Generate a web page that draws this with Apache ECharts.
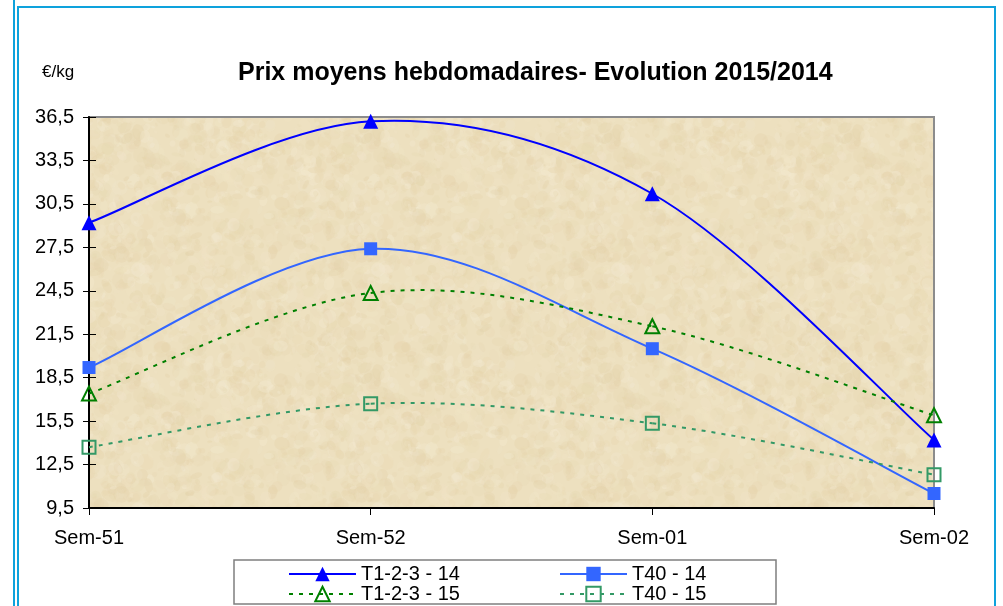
<!DOCTYPE html>
<html>
<head>
<meta charset="utf-8">
<script src="https://cdn.jsdelivr.net/npm/echarts@6/dist/echarts.min.js"></script>
<style>html,body{margin:0;padding:0;background:#fff}#c{width:1003px;height:606px}</style>
</head>
<body>
<div id="c"></div>
<script>
var categories = ['Sem-51', 'Sem-52', 'Sem-01', 'Sem-02'];
var t123_14 = [29.2, 36.2, 31.2, 14.2];
var t40_14 = [19.2, 27.4, 20.5, 10.5];
var t123_15 = [17.4, 24.35, 22.05, 15.9];
var t40_15 = [13.7, 16.7, 15.35, 11.8];
var yTicks = { min: 9.5, max: 36.5, interval: 3 };

// decorative sand texture (deterministic)
function makeTexture() {
  var cv = document.createElement('canvas');
  cv.width = 240; cv.height = 240;
  var g = cv.getContext('2d');
  g.fillStyle = '#ede0bf';
  g.fillRect(0, 0, 240, 240);
  var cols = ['#f4ebd4', '#e3d1a8', '#e9d9b3', '#f1e5c8', '#e6d4ab'];
  function h(n) { var s = Math.sin(n * 12.9898) * 43758.5453; return s - Math.floor(s); }
  for (var i = 0; i < 1200; i++) {
    var x = h(i + 1) * 240, y = h(i + 1000) * 240;
    var r = 1.5 + h(i + 2000) * 7;
    g.globalAlpha = 0.15 + h(i + 3000) * 0.2;
    g.fillStyle = cols[Math.floor(h(i + 4000) * cols.length)];
    for (var dx = -240; dx <= 240; dx += 240) for (var dy = -240; dy <= 240; dy += 240) {
      g.beginPath();
      g.ellipse(x + dx, y + dy, r, r * (0.4 + h(i + 5000) * 0.6), h(i + 6000) * 3.14, 0, Math.PI * 2);
      g.fill();
    }
  }
  g.globalAlpha = 1;
  return cv;
}

var chart = echarts.init(document.getElementById('c'), null, { renderer: 'canvas' });
var font = 'Liberation Sans, Arial, sans-serif';
var blueFrame = '#0ea2dc';

// smooth curve (Catmull-Rom style, like spreadsheet smoothing) drawn through the axes
function curveSeries(id, data, color, dash) {
  return {
    id: id, type: 'custom', silent: true, z: 2,
    data: data.map(function (v, i) { return [i, v]; }),
    renderItem: function (params, api) {
      var i = params.dataIndex;
      if (i >= data.length - 1) return null;
      function P(k) { k = Math.max(0, Math.min(data.length - 1, k)); return api.coord([k, data[k]]); }
      var p0 = P(i - 1), p1 = P(i), p2 = P(i + 1), p3 = P(i + 2);
      return {
        type: 'bezierCurve',
        shape: {
          x1: p1[0], y1: p1[1], x2: p2[0], y2: p2[1],
          cpx1: p1[0] + (p2[0] - p0[0]) / 6, cpy1: p1[1] + (p2[1] - p0[1]) / 6,
          cpx2: p2[0] - (p3[0] - p1[0]) / 6, cpy2: p2[1] - (p3[1] - p1[1]) / 6
        },
        style: { stroke: color, lineWidth: 2, fill: null, lineDash: dash ? [4, 6] : null }
      };
    }
  };
}

function markSeries(name, data, color, symbol, size, dashed, filled) {
  return {
    name: name, type: 'line', data: data, z: 3,
    symbol: symbol, symbolSize: size, showSymbol: true,
    lineStyle: { color: color, width: 2, type: dashed ? [4, 6] : 'solid', opacity: 0 },
    itemStyle: filled ? { color: color } : { color: 'rgba(0,0,0,0)', borderColor: color, borderWidth: 2 },
    emphasis: { disabled: true }
  };
}

function legendItem(name, color, dashed) {
  return { name: name, lineStyle: { color: color, width: 2, type: dashed ? [4, 6] : 'solid', opacity: 1 } };
}

var legendText = { fontSize: 20, color: '#000', lineHeight: 18, fontFamily: font };

chart.setOption({
  animation: false,
  backgroundColor: '#ffffff',
  textStyle: { fontFamily: font },
  title: {
    text: 'Prix moyens hebdomadaires- Evolution 2015/2014',
    left: 233, top: 56,
    textStyle: { fontSize: 25, fontWeight: 'bold', color: '#000', fontFamily: font }
  },
  grid: {
    left: 89, right: 69, top: 117, bottom: 98,
    show: true,
    backgroundColor: { image: makeTexture(), repeat: 'repeat' },
    borderColor: '#8c8c8c', borderWidth: 2
  },
  xAxis: {
    type: 'category', data: categories, boundaryGap: false,
    axisLine: { lineStyle: { color: '#000', width: 2 } },
    axisTick: { show: true, length: 7, lineStyle: { color: '#000', width: 1 } },
    axisLabel: { color: '#000', fontSize: 20, margin: 20, fontFamily: font },
    splitLine: { show: false }
  },
  yAxis: [{
    type: 'value', min: yTicks.min, max: yTicks.max, interval: yTicks.interval,
    axisLine: { show: true, lineStyle: { color: '#000', width: 2 } },
    axisTick: { show: true, length: 6, lineStyle: { color: '#000', width: 1 } },
    axisLabel: { color: '#000', fontSize: 20, margin: 15, fontFamily: font,
      formatter: function (v) { return v.toFixed(1).replace('.', ','); } },
    splitLine: { show: false }
  }, {
    type: 'value', min: yTicks.min, max: yTicks.max, interval: yTicks.interval, position: 'left',
    axisLine: { show: false },
    axisTick: { show: true, inside: true, length: 7, lineStyle: { color: '#000', width: 1 } },
    axisLabel: { show: false }, splitLine: { show: false }
  }],
  legend: [{
    data: [legendItem('T1-2-3 - 14', '#0000ff', false), legendItem('T1-2-3 - 15', '#008000', true)],
    orient: 'vertical', left: 283, top: 559, height: 80, itemWidth: 67, itemHeight: 18, itemGap: 0,
    textStyle: legendText, selectedMode: false
  }, {
    data: [legendItem('T40 - 14', '#3366ff', false), legendItem('T40 - 15', '#339966', true)],
    orient: 'vertical', left: 554, top: 559, height: 80, itemWidth: 67, itemHeight: 18, itemGap: 0,
    textStyle: legendText, selectedMode: false
  }],
  series: [
    curveSeries('c1', t123_14, '#0000ff', false),
    curveSeries('c2', t40_14, '#3366ff', false),
    curveSeries('c3', t123_15, '#008000', true),
    curveSeries('c4', t40_15, '#339966', true),
    markSeries('T1-2-3 - 14', t123_14, '#0000ff', 'triangle', 15, false, true),
    markSeries('T40 - 14', t40_14, '#3366ff', 'rect', 13, false, true),
    markSeries('T1-2-3 - 15', t123_15, '#008000', 'triangle', 14, true, false),
    markSeries('T40 - 15', t40_15, '#339966', 'rect', 13, true, false)
  ],
  graphic: [
    { type: 'line', shape: { x1: 14, y1: 0, x2: 14, y2: 606 }, style: { stroke: blueFrame, lineWidth: 2 } },
    { type: 'line', shape: { x1: 18, y1: 7, x2: 18, y2: 606 }, style: { stroke: blueFrame, lineWidth: 2 } },
    { type: 'line', shape: { x1: 17, y1: 7, x2: 996, y2: 7 }, style: { stroke: blueFrame, lineWidth: 2 } },
    { type: 'line', shape: { x1: 995, y1: 6, x2: 995, y2: 606 }, style: { stroke: blueFrame, lineWidth: 2 } },
    { type: 'rect', shape: { x: 234, y: 560, width: 542, height: 44 }, style: { fill: 'none', stroke: '#7f7f7f', lineWidth: 1.5 }, z: 0 },
    { type: 'text', left: 42, top: 64, style: { text: '€/kg', fontSize: 17, fill: '#000', fontFamily: font } }
  ]
});
</script>
</body>
</html>
